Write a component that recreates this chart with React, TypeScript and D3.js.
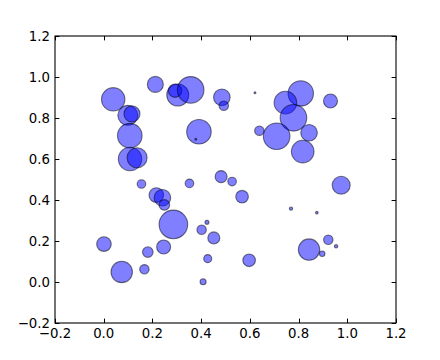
import React from 'react';
import * as d3 from 'd3';

const width = 440;
const height = 360;
const margin = { top: 36, right: 44, bottom: 37, left: 55 };

// bubble data: x, y and marker area (points^2)
const xValues = [
    0.039, 0.212, 0.304, 0.293, 0.357, 0.485, 0.493, 0.099, 0.116, 0.107,
    0.391, 0.378, 0.108, 0.137, 0.621, 0.809, 0.746, 0.779, 0.931, 0.639,
    0.710, 0.843, 0.817, 0.155, 0.352, 0.482, 0.527, 0.216, 0.241, 0.249,
    0.286, 0.424, 0.402, 0.452, 0.001, 0.181, 0.246, 0.427, 0.074, 0.167,
    0.408, 0.568, 0.975, 0.769, 0.875, 0.922, 0.954, 0.843, 0.897, 0.597,
];
const yValues = [
    0.891, 0.964, 0.912, 0.933, 0.937, 0.901, 0.860, 0.813, 0.820, 0.714,
    0.733, 0.696, 0.600, 0.606, 0.923, 0.920, 0.875, 0.801, 0.883, 0.738,
    0.711, 0.728, 0.636, 0.478, 0.481, 0.514, 0.490, 0.424, 0.411, 0.376,
    0.281, 0.291, 0.255, 0.215, 0.185, 0.146, 0.171, 0.114, 0.049, 0.062,
    0.001, 0.416, 0.472, 0.358, 0.338, 0.206, 0.174, 0.158, 0.138, 0.106,
];
const areas = [
    443, 207, 392, 145, 573, 223, 72, 324, 207, 490,
    490, 3, 443, 324, 3, 523, 414, 573, 159, 72,
    573, 223, 414, 60, 60, 117, 60, 173, 223, 91,
    663, 13, 72, 117, 173, 91, 159, 52, 371, 72,
    29, 129, 262, 9, 5.5, 72, 9, 371, 24, 129,
];

const xTicks = [-0.2, 0, 0.2, 0.4, 0.6, 0.8, 1.0, 1.2];
const yTicks = [-0.2, 0, 0.2, 0.4, 0.6, 0.8, 1.0, 1.2];

const dpi = 80;
const fmt = (d: number) => d.toFixed(1).replace('-', '\u2212');

export default function App() {
    const xScale = d3.scaleLinear().domain([-0.2, 1.2]).range([margin.left, width - margin.right]);
    const yScale = d3.scaleLinear().domain([-0.2, 1.2]).range([height - margin.bottom, margin.top]);
    // matplotlib: marker diameter = sqrt(s) points
    const rScale = (s: number) => (Math.sqrt(s) / 2) * dpi / 72;

    const x0 = margin.left;
    const x1 = width - margin.right;
    const y0 = height - margin.bottom;
    const y1 = margin.top;
    const tickLen = 4.4;
    const font = { fontFamily: 'DejaVu Sans', fontSize: 13.3 };

    return (
        <svg width={width} height={height} style={{ position: 'absolute', left: 0, top: 0, background: '#fff' }}>
            {xValues.map((x, i) => (
                <circle
                    key={i}
                    cx={xScale(x)}
                    cy={yScale(yValues[i])}
                    r={rScale(areas[i])}
                    fill="rgba(0,0,255,0.5)"
                    stroke="rgba(0,0,0,0.5)"
                    strokeWidth={1.1}
                />
            ))}

            <g stroke="#000" strokeWidth={1}>
                {xTicks.map((t, i) => (
                    <g key={i}>
                        <line x1={Math.round(xScale(t)) + 0.5} x2={Math.round(xScale(t)) + 0.5} y1={y0} y2={y0 - tickLen} />
                        <line x1={Math.round(xScale(t)) + 0.5} x2={Math.round(xScale(t)) + 0.5} y1={y1} y2={y1 + tickLen} />
                    </g>
                ))}
                {yTicks.map((t, i) => (
                    <g key={i}>
                        <line x1={x0} x2={x0 + tickLen} y1={Math.round(yScale(t)) + 0.5} y2={Math.round(yScale(t)) + 0.5} />
                        <line x1={x1} x2={x1 - tickLen} y1={Math.round(yScale(t)) + 0.5} y2={Math.round(yScale(t)) + 0.5} />
                    </g>
                ))}
            </g>
            <rect x={x0} y={y1} width={x1 - x0} height={y0 - y1} fill="none" stroke="#000" strokeWidth={1.1} />

            {xTicks.map((t, i) => (
                <text key={i} x={xScale(t)} y={y0 + 15} textAnchor="middle" style={font}>
                    {fmt(t)}
                </text>
            ))}
            {yTicks.map((t, i) => (
                <text key={i} x={x0 - 5} y={yScale(t) + 5} textAnchor="end" style={font}>
                    {fmt(t)}
                </text>
            ))}
        </svg>
    );
}
